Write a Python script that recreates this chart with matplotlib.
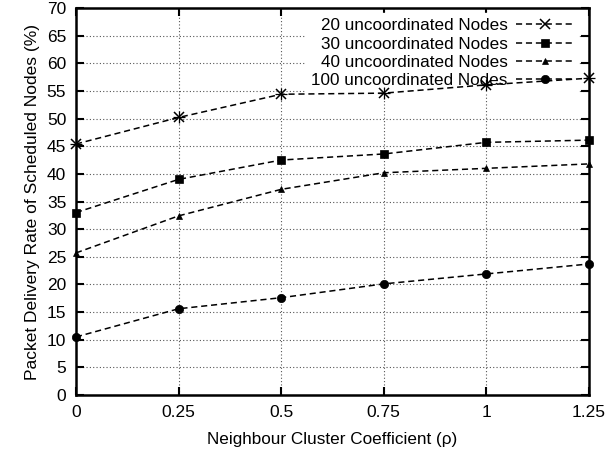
import matplotlib.pyplot as plt

plt.rcParams["font.family"] = ["Liberation Sans", "DejaVu Sans"]

# Neighbour cluster coefficient (rho)
rho = [0, 0.25, 0.5, 0.75, 1, 1.25]

# Packet delivery rate (%) per number of uncoordinated nodes
pdr_20 = [45.4, 50.2, 54.4, 54.6, 56.1, 57.3]
pdr_30 = [33.0, 39.0, 42.5, 43.6, 45.7, 46.1]
pdr_40 = [25.7, 32.4, 37.2, 40.2, 41.0, 41.8]
pdr_100 = [10.5, 15.6, 17.6, 20.1, 21.9, 23.7]

series = [
    ("20 uncoordinated Nodes", pdr_20, "x", 6.5),
    ("30 uncoordinated Nodes", pdr_30, "s", 6),
    ("40 uncoordinated Nodes", pdr_40, "^", 4.5),
    ("100 uncoordinated Nodes", pdr_100, "o", 6),
]

xticks = [0, 0.25, 0.5, 0.75, 1, 1.25]
xticklabels = ["0", "0.25", "0.5", "0.75", "1", "1.25"]

fig = plt.figure(figsize=(6.08, 4.54), dpi=100)
ax = fig.add_axes([76 / 608, 1 - 395 / 454, (589 - 76) / 608, (395 - 8) / 454])

for label, vals, marker, ms in series:
    ax.plot(rho, vals, color="black", linestyle=(0, (4, 2.5)), linewidth=1.1,
            marker=marker, markersize=ms, markeredgewidth=1.1 if marker == "x" else 0.5,
            label=label, clip_on=False, zorder=3)
# extra arms so the first series reads as an asterisk
ax.plot(rho, pdr_20, linestyle="none", marker="+", markersize=8, color="black",
        markeredgewidth=0.9, clip_on=False, zorder=3)

ax.set_xlim(0, 1.25)
ax.set_ylim(0, 70)
ax.set_xticks(xticks)
ax.set_xticklabels(xticklabels)
ax.set_yticks(range(0, 71, 5))

ax.grid(True, linestyle=(0, (1, 2)), color="#555555", linewidth=0.8)
ax.set_axisbelow(True)

ax.tick_params(direction="in", top=True, right=True, length=6, width=1.5,
               labelsize=12.5, pad=7)
for s in ax.spines.values():
    s.set_linewidth(1.8)

ax.set_xlabel("Neighbour Cluster Coefficient (\u03c1)", fontsize=12.3, labelpad=9)
ax.set_ylabel("Packet Delivery Rate of Scheduled Nodes (%)", fontsize=12.5, labelpad=5)

leg = ax.legend(loc="upper right", bbox_to_anchor=(0.985, 0.995), markerfirst=False,
                frameon=True, framealpha=1.0, edgecolor="white", fancybox=False,
                fontsize=12.3, handlelength=3.3, handletextpad=0.5,
                labelspacing=0.18, borderpad=0.3, borderaxespad=0.2)
leg.set_zorder(2)
leg._legend_box.align = "right"

fig.savefig("out.png", dpi=100)
